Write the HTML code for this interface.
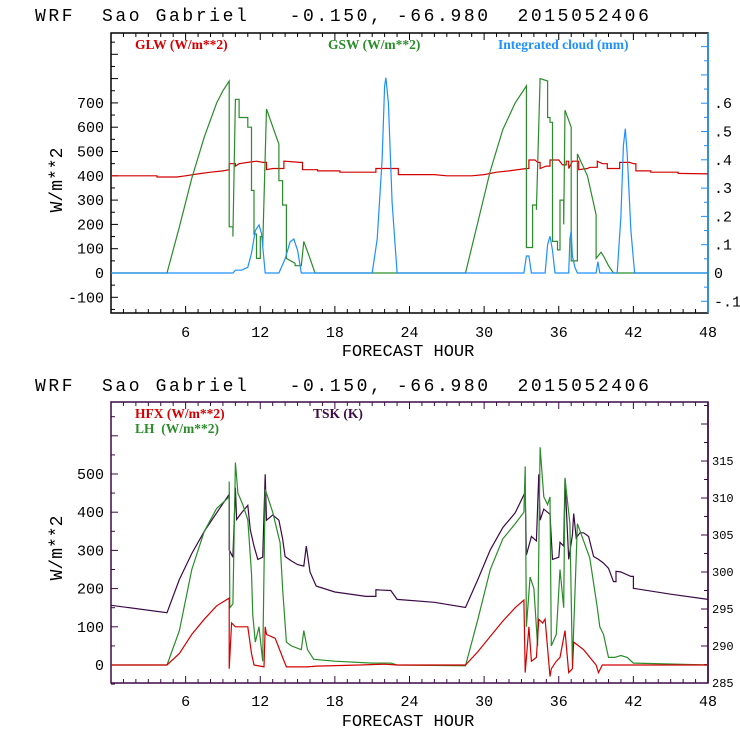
<!DOCTYPE html>
<html><head><meta charset="utf-8"><style>
body{margin:0;background:#fff}
svg{display:block}
text{font-family:"Liberation Mono",monospace}
.t{font-size:18px;letter-spacing:2.6px;white-space:pre}
.lg{font-family:"Liberation Serif",serif;font-size:13.5px;font-weight:bold;white-space:pre}
.tk{font-size:15px}
.rt{font-size:12px}
</style></head><body>
<svg id="c" width="740" height="740" viewBox="0 0 740 740"></svg>
<script>
// ---- data (hours + values) ----
const gswHours=[0,4.5,5.5,6.5,7.5,8.5,9.0,9.5,9.5,9.8,9.8,10.0,10.3,10.3,11.0,11.0,11.3,11.3,11.5,11.5,11.7,11.7,12.0,12.0,12.2,12.2,12.5,13.5,13.5,13.8,13.8,14.1,14.1,14.8,14.8,15.3,15.5,16.0,16.4,28.5,29.5,30.5,31.5,32.5,33.4,33.4,33.9,33.9,34.2,34.2,34.5,35.1,35.1,35.3,35.3,35.5,35.5,35.9,35.9,36.1,36.1,36.4,36.4,36.5,37.0,37.0,37.5,37.5,38.3,39.0,39.0,39.4,39.6,40.0,40.4,48];
const gswVals=[0,0,190,390,560,700,750,790,190,190,150,715,715,640,640,600,600,340,340,160,160,60,60,150,150,110,675,530,380,380,280,280,60,40,30,30,130,60,0,0,210,420,590,700,770,105,105,280,280,260,800,790,640,640,620,620,130,130,95,95,300,300,200,670,600,50,50,490,400,240,60,85,70,30,0,0];
const glwHours=[0,3.7,3.7,5.3,6,7,8,9,9.5,9.5,10,10,10.3,11,11.7,12.2,12.5,12.5,13,13.9,13.9,15.2,15.4,15.4,16.6,16.6,18.4,18.4,21.3,21.3,22.8,23.1,23.1,26,27,29,30,31,32,33.4,33.6,33.6,34.1,34.3,34.5,34.5,35,35.3,35.3,36,36.3,36.6,36.6,36.8,36.8,37.1,37.1,37.6,37.6,38.3,38.5,39.1,39.1,39.5,39.9,39.9,40.8,40.9,40.9,41.7,42,42.2,42.2,43.4,43.4,45.6,45.6,48];
const glwVals=[400,400,395,395,400,408,415,420,425,450,450,440,450,455,460,455,455,425,430,430,460,455,455,425,425,420,420,415,415,430,430,430,405,405,400,400,405,415,420,430,430,465,465,455,455,430,440,440,465,465,445,445,460,460,430,460,460,460,425,430,435,435,460,450,450,430,430,430,455,455,450,450,420,420,415,415,410,408];
const cloudHours=[0,9.8,10.0,10.5,11.0,11.3,11.6,11.9,12.1,12.4,13.5,14.0,14.4,14.7,15.0,15.3,21.0,21.4,21.8,22.0,22.1,22.3,22.6,23.0,33.2,33.4,33.6,33.8,34.9,35.1,35.3,35.5,35.7,36.8,36.9,37.0,37.1,37.3,37.5,39.0,39.15,39.3,40.7,41.0,41.2,41.35,41.5,41.8,42.1,48];
const cloudVals=[0,0,0.01,0.01,0.02,0.07,0.15,0.17,0.14,0,0,0.05,0.11,0.12,0.08,0,0,0.12,0.4,0.66,0.69,0.6,0.25,0,0,0.06,0.06,0,0,0.1,0.13,0.08,0,0,0.12,0.15,0.06,0.02,0,0,0.04,0,0,0.2,0.45,0.51,0.42,0.15,0,0];

const tskHours=[0,4.5,5.5,6.5,7.5,8.5,9.5,9.5,9.8,10.0,10.1,10.5,11.0,11.2,11.5,11.8,12.2,12.4,12.5,13.0,13.5,13.8,14.0,14.5,15.0,15.5,15.7,16.0,16.5,18,20.5,21.3,21.3,22.5,23.0,26,28.5,29.5,30.5,31.5,32.5,33.3,33.4,33.8,34.2,34.4,34.5,34.8,35.3,35.5,36.0,36.1,36.4,36.5,36.8,37.1,37.2,37.4,37.7,38.0,38.4,38.8,39.2,39.6,40.0,40.4,40.6,40.6,41.0,41.8,42.0,42.0,45,48];
const tskVals=[295.5,294.5,299,302.5,305.5,308,310.5,303,302,311.4,307.1,308,309,305.7,303.5,301.7,302,313.2,307,307.7,307,304.5,302.1,301.5,301,300.8,303.5,300,298.1,297.3,296.7,296.7,297.6,297.5,296.3,295.9,295.2,299,303,306,308,310.8,302.3,304.8,304.2,313.2,307,308.5,307.8,301.7,302,304,303.5,312.5,301.7,305,307.9,304.6,305.3,305.3,304.8,302.1,301.7,301.2,300.5,298.7,298.7,300.1,300,299.4,299.4,297.8,297,296.3];
const hfxHours=[0,4.5,5.5,6.5,7.5,8.5,9.5,9.5,9.7,10.0,11.0,11.3,11.5,12.3,12.4,12.5,13.2,13.8,14.1,15.8,16.5,20,22,23,28.5,29.5,30.5,31.5,32.5,33.2,33.3,33.6,33.8,34.2,34.4,34.7,34.9,35.3,35.4,35.8,36.1,36.5,36.8,37.1,37.2,38.0,39.0,39.2,39.5,40,42,44.5,48];
const hfxVals=[0,0,30,80,120,155,175,-10,110,100,100,30,0,-5,100,80,70,20,-5,-5,-3,0,2,0,0,35,75,115,150,170,-20,100,10,20,120,110,120,-30,-10,10,20,90,-20,-10,60,40,0,-20,0,0,0,0,0];
const lhHours=[0,4.5,5.5,6.5,7.5,8.5,9.5,9.5,9.55,9.8,10.0,10.2,10.6,11.0,11.3,11.4,11.6,11.9,12.2,12.4,13.0,13.6,13.8,14.1,14.5,15.3,15.5,15.8,16.3,18,21,22.5,23,28.5,29.5,30.5,31.5,32.5,33.2,33.3,33.4,33.7,34.0,34.3,34.5,34.8,35.1,35.3,35.4,35.8,36.1,36.4,36.5,36.6,36.9,37.1,37.5,38.5,39.1,39.3,39.6,40.0,40.5,41.0,41.5,42.0,48];
const lhVals=[0,0,90,250,350,410,440,480,150,160,530,450,420,380,240,130,60,100,10,460,400,320,200,60,50,40,90,40,15,10,5,5,0,-2,120,250,330,370,400,520,100,230,200,50,570,440,420,440,50,80,250,150,490,460,370,0,370,280,150,100,80,20,20,25,20,5,0];

const xTicks=[6,12,18,24,30,36,42,48];
const topLeftTicks=[-100,0,100,200,300,400,500,600,700];
const topRightTicks=[-0.1,0,0.1,0.2,0.3,0.4,0.5,0.6];
const botLeftTicks=[0,100,200,300,400,500];
const botRightTicks=[285,290,295,300,305,310,315];

const NS="http://www.w3.org/2000/svg";
const svg=document.getElementById('c');
function el(tag,attrs,parent){const e=document.createElementNS(NS,tag);for(const k in attrs)e.setAttribute(k,attrs[k]);(parent||svg).appendChild(e);return e;}
const X0=111,X1=708;
const xs=h=>X0+(X1-X0)*h/48;

function panel(top,bot,frameColor,rightColor,name){
  const g=el('g',{});
  
  
  const fr=el('rect',{x:X0,y:top,width:X1-X0,height:bot-top,fill:'none',stroke:frameColor,'stroke-width':1.5},g);
  
  
  el('line',{x1:X1,y1:top,x2:X1,y2:bot,stroke:rightColor,'stroke-width':1.5},g);
  for(let h=1;h<48;h++){
    const len=h%6===0?7:4;
    el('line',{x1:xs(h),y1:bot,x2:xs(h),y2:bot-len,stroke:frameColor},g);
    el('line',{x1:xs(h),y1:top,x2:xs(h),y2:top+len,stroke:frameColor},g);
  }
  return {g};
}
function line(g,hours,vals,f,color,name){
  let d='';
  hours.forEach((h,i)=>{d+=(i?'L':'M')+xs(h).toFixed(1)+' '+f(vals[i]).toFixed(1);});
  const p=el('path',{d,fill:'none',stroke:color,'stroke-width':1.2},g);
  
  
}
function txt(str,x,y,cls,fill,anchor,parent){const t=el('text',{x,y,class:cls,fill:fill||'#000','text-anchor':anchor||'start'},parent);t.textContent=str;return t;}

// ---- top panel ----
const T=panel(33,313,'#000','#1e90ff','top-panel');
T.ry=v=>273-v*283;
T.ly=v=>273-v*0.243;
for(let v=-150;v<=950;v+=50){const y=T.ly(v);el('line',{x1:X0,y1:y,x2:X0+(v%100===0?7:4),y2:y,stroke:'#000'},T.g);}
for(let v=-0.15;v<=0.96;v+=0.05){const y=T.ry(v);if(y<34||y>312)continue;el('line',{x1:X1,y1:y,x2:X1-(Math.abs(Math.round(v*100))%10===0?7:4),y2:y,stroke:'#1e90ff'},T.g);}
topLeftTicks.forEach(v=>{const t=txt(String(v),104,T.ly(v)+5,'tk','#000','end',T.g);});
topRightTicks.forEach(v=>{const s=v===0?'0':(v<0?'-':'')+'.'+Math.round(Math.abs(v)*10);const t=txt(s,714,T.ry(v)+5,'tk','#000','start',T.g);});
line(T.g,glwHours,glwVals,T.ly,'#d40000','glw-line');
line(T.g,gswHours,gswVals,T.ly,'#2a8c2a','gsw-line');
line(T.g,cloudHours,cloudVals,T.ry,'#1e90ff','cloud-line');
xTicks.forEach(h=>{const t=txt(String(h),xs(h),337,'tk','#000','middle');});

// ---- bottom panel ----
const B=panel(402,683,'#3c0a46','#3c0a46','bottom-panel');
B.ly=v=>665-v*0.382;
B.ry=v=>683-(v-285)*7.4;
for(let v=-50;v<=650;v+=50){const y=B.ly(v);if(y<403)continue;el('line',{x1:X0,y1:y,x2:X0+(v%100===0?7:4),y2:y,stroke:'#3c0a46'},B.g);}
for(let v=285;v<=322.5;v+=2.5){const y=B.ry(v);if(y<403)continue;el('line',{x1:X1,y1:y,x2:X1-(v%5===0?7:4),y2:y,stroke:'#3c0a46'},B.g);}
botLeftTicks.forEach(v=>{const t=txt(String(v),104,B.ly(v)+5,'tk','#000','end',B.g);});
botRightTicks.forEach(v=>{const t=txt(String(v),712,B.ry(v)+4,'rt','#000','start',B.g);});
line(B.g,tskHours,tskVals,B.ry,'#3c0a46','tsk-line');
line(B.g,lhHours,lhVals,B.ly,'#2a8c2a','lh-line');
line(B.g,hfxHours,hfxVals,B.ly,'#d40000','hfx-line');
xTicks.forEach(h=>{const t=txt(String(h),xs(h),706,'tk','#000','middle');});
</script>
<svg width="740" height="740" viewBox="0 0 740 740" style="position:absolute;left:0;top:0">
<text x="35" y="21" class="t" xml:space="preserve">WRF  Sao Gabriel   -0.150, -66.980  2015052406</text>
<text x="35" y="391" class="t" xml:space="preserve">WRF  Sao Gabriel   -0.150, -66.980  2015052406</text>
<text x="135" y="49" class="lg" fill="#d40000">GLW (W/m**2)</text>
<text x="328" y="49" class="lg" fill="#2a8c2a">GSW (W/m**2)</text>
<text x="498" y="49" class="lg" fill="#1e90ff">Integrated cloud (mm)</text>
<text x="135" y="418" class="lg" fill="#d40000">HFX (W/m**2)</text>
<text x="135" y="433" class="lg" fill="#2a8c2a" xml:space="preserve">LH  (W/m**2)</text>
<text x="313" y="418" class="lg" fill="#3c0a46">TSK (K)</text>
<text x="408" y="356" font-size="17" text-anchor="middle" font-family="Liberation Mono, monospace">FORECAST HOUR</text>
<text x="408" y="726" font-size="17" text-anchor="middle" font-family="Liberation Mono, monospace">FORECAST HOUR</text>
<text transform="translate(62,180) rotate(-90)" font-size="18" text-anchor="middle" font-family="Liberation Mono, monospace">W/m**2</text>
<text transform="translate(62,548) rotate(-90)" font-size="18" text-anchor="middle" font-family="Liberation Mono, monospace">W/m**2</text>
</svg>
</body></html>
